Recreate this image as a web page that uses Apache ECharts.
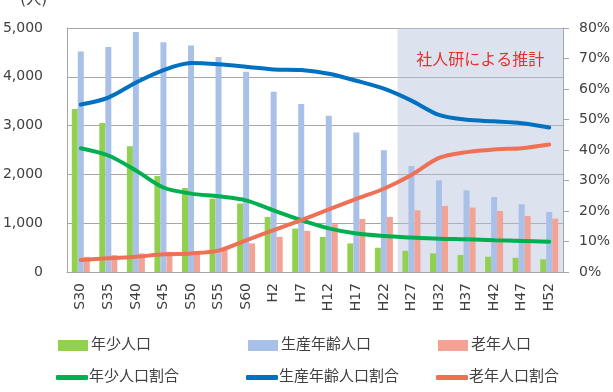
<!DOCTYPE html>
<html>
<head>
<meta charset="utf-8">
<script src="https://cdn.jsdelivr.net/npm/echarts@6/dist/echarts.min.js"></script>
<style>
  html, body { margin: 0; padding: 0; background: #fff; }
  #chart { width: 613px; height: 392px; }
</style>
</head>
<body>
<div id="chart"></div>
<script>
// 年次
var categories = ["S30", "S35", "S40", "S45", "S50", "S55", "S60", "H2", "H7", "H12", "H17", "H22",
  "H27", "H32", "H37", "H42", "H47", "H52"];

// 人口 (人)
var youngPop = [3340, 3055, 2578, 1966, 1721, 1504, 1402, 1129, 891, 720, 585, 497,
  435, 381, 347, 313, 292, 259];
var workingPop = [4516, 4612, 4918, 4707, 4639, 4408, 4102, 3694, 3442, 3204, 2857, 2496,
  2170, 1878, 1673, 1537, 1388, 1231];
var elderlyPop = [310, 347, 380, 414, 430, 470, 586, 720, 843, 980, 1088, 1129,
  1265, 1353, 1320, 1251, 1149, 1095];

// 割合 (%)
var youngRate = [40.6, 38.2, 33.3, 27.7, 25.7, 24.8, 23.5, 20.2, 17.0, 14.3, 12.6, 11.8,
  11.3, 10.9, 10.7, 10.4, 10.2, 9.9];
var workingRate = [54.9, 57.2, 62.1, 66.2, 68.5, 68.1, 67.3, 66.4, 66.2, 65.0, 62.7, 60.1,
  56.2, 51.5, 49.9, 49.4, 48.8, 47.4];
var elderlyRate = [3.9, 4.5, 5.0, 5.8, 6.1, 7.0, 10.4, 13.7, 17.0, 20.5, 24.0, 27.3,
  31.8, 37.4, 39.3, 40.2, 40.6, 41.8];

// 推計の範囲 (カテゴリ番号)
var estimateFrom = 12;
var estimateTo = 18;

var fontFamily = "'DejaVu Sans', 'Noto Sans CJK JP', sans-serif";
var textColor = "#404040";

var chart = echarts.init(document.getElementById("chart"));

function barLegend(name, left) {
  return {
    data: [{ name: name, icon: "rect" }],
    left: left,
    top: 338,
    padding: 0,
    itemWidth: 30,
    itemHeight: 11,
    itemGap: 0,
    textStyle: { fontSize: 15, color: textColor, padding: [0, 0, 0, -2] }
  };
}
function lineLegend(name, left) {
  return {
    data: [{ name: name, icon: "roundRect" }],
    left: left,
    top: 370,
    padding: 0,
    itemWidth: 32,
    itemHeight: 5,
    itemGap: 0,
    textStyle: { fontSize: 15, color: textColor, padding: [0, 0, 0, -4] }
  };
}

chart.setOption({
  animation: false,
  textStyle: { fontFamily: fontFamily },
  grid: { left: 67, right: 50, top: 28, bottom: 120, outerBoundsMode: "none", containLabel: false },
  legend: [
    barLegend("年少人口", 58),
    barLegend("生産年齢人口", 248),
    barLegend("老年人口", 438),
    lineLegend("年少人口割合", 56),
    lineLegend("生産年齢人口割合", 246),
    lineLegend("老年人口割合", 436)
  ],
  xAxis: [
    {
      type: "category",
      data: categories,
      axisLine: { lineStyle: { color: "#A6A6A6" } },
      axisTick: { show: false },
      axisLabel: { rotate: 90, fontSize: 14, color: textColor, margin: 11 }
    },
    {
      type: "value",
      min: 0,
      max: categories.length,
      show: false
    }
  ],
  yAxis: [
    {
      type: "value",
      min: 0,
      max: 5000,
      interval: 1000,
      name: "(人)",
      nameGap: 20,
      nameTextStyle: { fontSize: 15, color: textColor, align: "right", padding: [0, 20, 0, 0] },
      axisLine: { show: true, lineStyle: { color: "#A6A6A6" } },
      axisTick: { show: false },
      axisLabel: {
        fontSize: 14,
        color: textColor,
        margin: 24,
        formatter: function (v) { return v.toLocaleString("en-US"); }
      },
      splitLine: { lineStyle: { color: "#A6A6A6" } }
    },
    {
      type: "value",
      min: 0,
      max: 80,
      interval: 10,
      position: "right",
      axisLine: { show: true, lineStyle: { color: "#A6A6A6" } },
      axisTick: { show: true, length: 6, lineStyle: { color: "#A6A6A6" } },
      axisLabel: { fontSize: 14, color: textColor, margin: 16, formatter: "{value}%" },
      splitLine: { show: false }
    }
  ],
  series: [
    {
      name: "推計",
      type: "line",
      xAxisIndex: 1,
      yAxisIndex: 0,
      data: [],
      silent: true,
      markArea: {
        silent: true,
        itemStyle: { color: "rgba(180,190,220,0.45)" },
        label: {
          show: true,
          position: "insideTop",
          distance: 23,
          fontSize: 16,
          color: "#E8302F",
          fontFamily: "'Noto Sans CJK JP', sans-serif"
        },
        data: [[{ name: "社人研による推計", xAxis: estimateFrom }, { xAxis: estimateTo }]]
      }
    },
    {
      name: "年少人口",
      type: "bar",
      data: youngPop,
      barWidth: 6,
      barGap: "0%",
      itemStyle: { color: "#92D050" }
    },
    {
      name: "生産年齢人口",
      type: "bar",
      data: workingPop,
      barWidth: 6,
      barGap: "0%",
      itemStyle: { color: "#A9C0E8" }
    },
    {
      name: "老年人口",
      type: "bar",
      data: elderlyPop,
      barWidth: 6,
      barGap: "0%",
      itemStyle: { color: "#F3A396" }
    },
    {
      name: "年少人口割合",
      type: "line",
      yAxisIndex: 1,
      data: youngRate,
      smooth: 0.3,
      symbol: "none",
      itemStyle: { color: "#00B050" },
      lineStyle: { width: 4, color: "#00B050", cap: "round" }
    },
    {
      name: "生産年齢人口割合",
      type: "line",
      yAxisIndex: 1,
      data: workingRate,
      smooth: 0.3,
      symbol: "none",
      itemStyle: { color: "#0070C0" },
      lineStyle: { width: 4, color: "#0070C0", cap: "round" }
    },
    {
      name: "老年人口割合",
      type: "line",
      yAxisIndex: 1,
      data: elderlyRate,
      smooth: 0.3,
      symbol: "none",
      itemStyle: { color: "#EE7156" },
      lineStyle: { width: 4, color: "#EE7156", cap: "round" }
    }
  ]
});
</script>
</body>
</html>
